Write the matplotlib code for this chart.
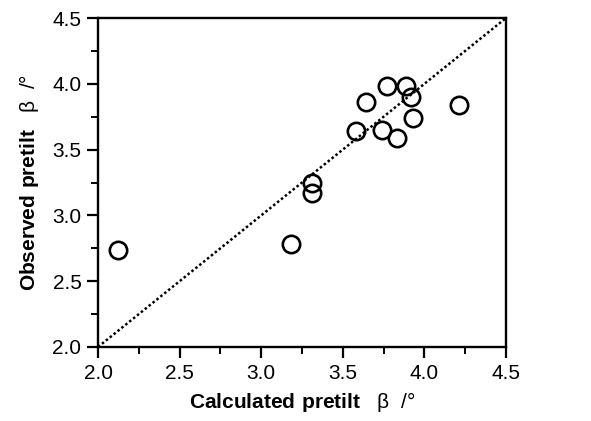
import matplotlib
matplotlib.use('Agg')
import matplotlib.pyplot as plt
from matplotlib.ticker import MultipleLocator

plt.rcParams['font.family'] = ['Liberation Sans', 'DejaVu Sans']
plt.rcParams['mathtext.fontset'] = 'custom'
plt.rcParams['mathtext.bf'] = 'Liberation Sans:bold'
plt.rcParams['mathtext.rm'] = 'Liberation Sans'

# calculated vs observed pretilt angle (deg)
calculated = [2.12, 3.18, 3.31, 3.31, 3.58, 3.64, 3.77, 3.74, 3.83, 3.89, 3.92, 3.93, 4.21]
observed = [2.74, 2.78, 3.17, 3.25, 3.64, 3.86, 3.98, 3.65, 3.59, 3.98, 3.90, 3.74, 3.84]
ticks = [2.0, 2.5, 3.0, 3.5, 4.0, 4.5]

fig = plt.figure(figsize=(5.91, 4.21), dpi=100)
ax = fig.add_axes([0.166, 0.176, 0.690, 0.781])

# line of equality
ax.plot([2.0, 4.5], [2.0, 4.5], color='black', linestyle=(0, (1, 1)), linewidth=1.8)
ax.plot(calculated, observed, 'o', markersize=12.5, markerfacecolor='none',
        markeredgecolor='black', markeredgewidth=1.9)

ax.set_xlim(2.0, 4.5)
ax.set_ylim(2.0, 4.5)
ax.set_xticks(ticks)
ax.set_yticks(ticks)
ax.xaxis.set_minor_locator(MultipleLocator(0.25))
ax.yaxis.set_minor_locator(MultipleLocator(0.25))
ax.set_xticklabels(['%.1f' % t for t in ticks])
ax.set_yticklabels(['%.1f' % t for t in ticks])
ax.tick_params(which='major', direction='out', length=8, width=1.6, labelsize=15, pad=4)
ax.tick_params(which='minor', direction='out', length=5, width=1.4)
for s in ax.spines.values():
    s.set_linewidth(1.7)

ax.set_xlabel(r'$\mathbf{Calculated\ pretilt}$   β  /°', fontsize=15, labelpad=5)
ax.set_ylabel(r'$\mathbf{Observed\ pretilt}$   β  /°', fontsize=15, labelpad=8)

fig.savefig('out.png', dpi=100)
